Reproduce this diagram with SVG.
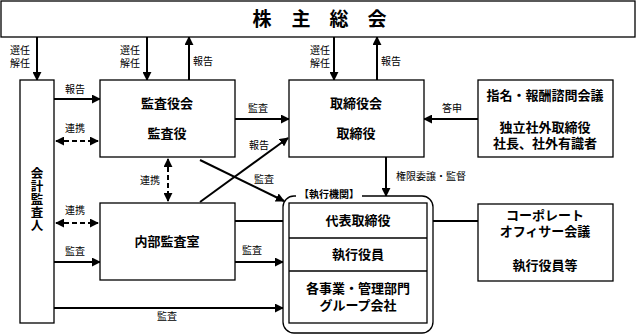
<svg xmlns="http://www.w3.org/2000/svg" width="640" height="335" viewBox="0 0 640 335">
<defs>
<marker id="ah" viewBox="0 0 10 10" refX="9" refY="5" markerWidth="4.5" markerHeight="4.5" orient="auto-start-reverse" markerUnits="strokeWidth">
<path d="M0,0 L10,5 L0,10 z" fill="#000"/>
</marker>
<style>
.box{fill:#fff;stroke:#000;stroke-width:1.3}
.ln{fill:none;stroke:#000;stroke-width:2}
.arr{fill:none;stroke:#000;stroke-width:2;marker-end:url(#ah)}
.dash{fill:none;stroke:#000;stroke-width:2;stroke-dasharray:5,3;marker-start:url(#ah);marker-end:url(#ah)}
.t{font-family:"Noto Sans CJK JP","Noto Sans",sans-serif;fill:#000;text-anchor:middle}
.s{font-size:10px}
.b{font-size:13px;font-weight:bold}
.h{font-size:19px;font-weight:bold}
.v{font-size:12.5px;font-weight:bold;writing-mode:vertical-rl;letter-spacing:0.5px}
</style>
</defs>
<rect width="640" height="335" fill="#fff"/>

<g id="connectors">
<line class="arr" x1="37" y1="37" x2="37" y2="80"/>
<line class="arr" x1="147" y1="37" x2="147" y2="80"/>
<line class="arr" x1="189" y1="80" x2="189" y2="37"/>
<line class="arr" x1="334" y1="37" x2="334" y2="80"/>
<line class="arr" x1="377" y1="80" x2="377" y2="37"/>
<line class="arr" x1="54" y1="99" x2="100" y2="99"/>
<line class="dash" x1="56" y1="141" x2="98" y2="141"/>
<line class="dash" x1="56" y1="223" x2="98" y2="223"/>
<line class="arr" x1="54" y1="262" x2="100" y2="262"/>
<line class="arr" x1="54" y1="308" x2="283" y2="308"/>
<line class="arr" x1="235" y1="119" x2="289" y2="119"/>
<line class="dash" x1="168" y1="159" x2="168" y2="201"/>
<line class="arr" x1="200" y1="160" x2="284" y2="201"/>
<line class="arr" x1="200" y1="202" x2="288" y2="138"/>
<line class="ln" x1="235" y1="221" x2="283" y2="221"/>
<line class="arr" x1="235" y1="262" x2="283" y2="262"/>
<line class="arr" x1="478" y1="119" x2="424" y2="119"/>
<line class="arr" x1="386" y1="157" x2="386" y2="196"/>
<line class="ln" x1="433" y1="221" x2="478" y2="221"/>
</g>

<g id="labels">
<text class="t s" x="20" y="54">選任<tspan x="20" dy="13">解任</tspan></text>
<text class="t s" x="130" y="54">選任<tspan x="130" dy="13">解任</tspan></text>
<text class="t s" x="203" y="65">報告</text>
<text class="t s" x="320" y="54">選任<tspan x="320" dy="13">解任</tspan></text>
<text class="t s" x="391" y="65">報告</text>
<text class="t s" x="75" y="93">報告</text>
<text class="t s" x="75" y="132">連携</text>
<text class="t s" x="75" y="214">連携</text>
<text class="t s" x="75" y="255">監査</text>
<text class="t s" x="167" y="320">監査</text>
<text class="t s" x="258" y="112">監査</text>
<text class="t s" x="150" y="184">連携</text>
<text class="t s" x="259" y="149">報告</text>
<text class="t s" x="264" y="183">監査</text>
<text class="t s" x="252" y="254">監査</text>
<text class="t s" x="452" y="112">答申</text>
<text class="t s" x="431" y="180">権限委譲・監督</text>
</g>

<g id="shareholders">
<rect class="box" x="1" y="1" width="634" height="36"/>
<text class="t h" x="262 282 301 320 339 358 377" y="26">株 主 総 会</text>
</g>

<g id="accounting-auditor">
<rect class="box" x="20" y="80" width="34" height="243"/>
<text class="t v" x="37" y="199">会計監査人</text>
</g>

<g id="audit-board">
<rect class="box" x="100" y="80" width="135" height="77"/>
<text class="t b" x="167" y="108">監査役会</text>
<text class="t b" x="167" y="138">監査役</text>
</g>

<g id="board">
<rect class="box" x="289" y="80" width="135" height="77"/>
<text class="t b" x="356" y="108">取締役会</text>
<text class="t b" x="356" y="138">取締役</text>
</g>

<g id="nomination">
<rect class="box" x="478" y="80" width="135" height="77"/>
<text class="t b" x="545" y="100">指名・報酬諮問会議</text>
<text class="t b" x="545" y="132">独立社外取締役<tspan x="545" dy="16">社長、社外有識者</tspan></text>
</g>

<g id="internal-audit">
<rect class="box" x="100" y="203" width="135" height="77"/>
<text class="t b" x="167" y="246">内部監査室</text>
</g>

<g id="executive">
<rect class="box" x="283" y="196" width="150" height="137" rx="11" ry="11"/>
<rect x="296" y="188" width="66" height="14" fill="#fff"/>
<text class="t s" x="329" y="198" font-weight="bold">【執行機関】</text>
<rect class="box" x="289" y="203" width="138" height="120"/>
<line stroke="#000" stroke-width="1.3" x1="289" y1="238" x2="427" y2="238"/>
<line stroke="#000" stroke-width="1.3" x1="289" y1="271" x2="427" y2="271"/>
<text class="t b" x="358" y="225">代表取締役</text>
<text class="t b" x="358" y="259">執行役員</text>
<text class="t b" x="358" y="293">各事業・管理部門<tspan x="358" dy="17">グループ会社</tspan></text>
</g>

<g id="corporate-officer">
<rect class="box" x="478" y="204" width="135" height="77"/>
<text class="t b" x="545" y="220">コーポレート<tspan x="545" dy="16">オフィサー会議</tspan></text>
<text class="t b" x="545" y="270">執行役員等</text>
</g>
</svg>
